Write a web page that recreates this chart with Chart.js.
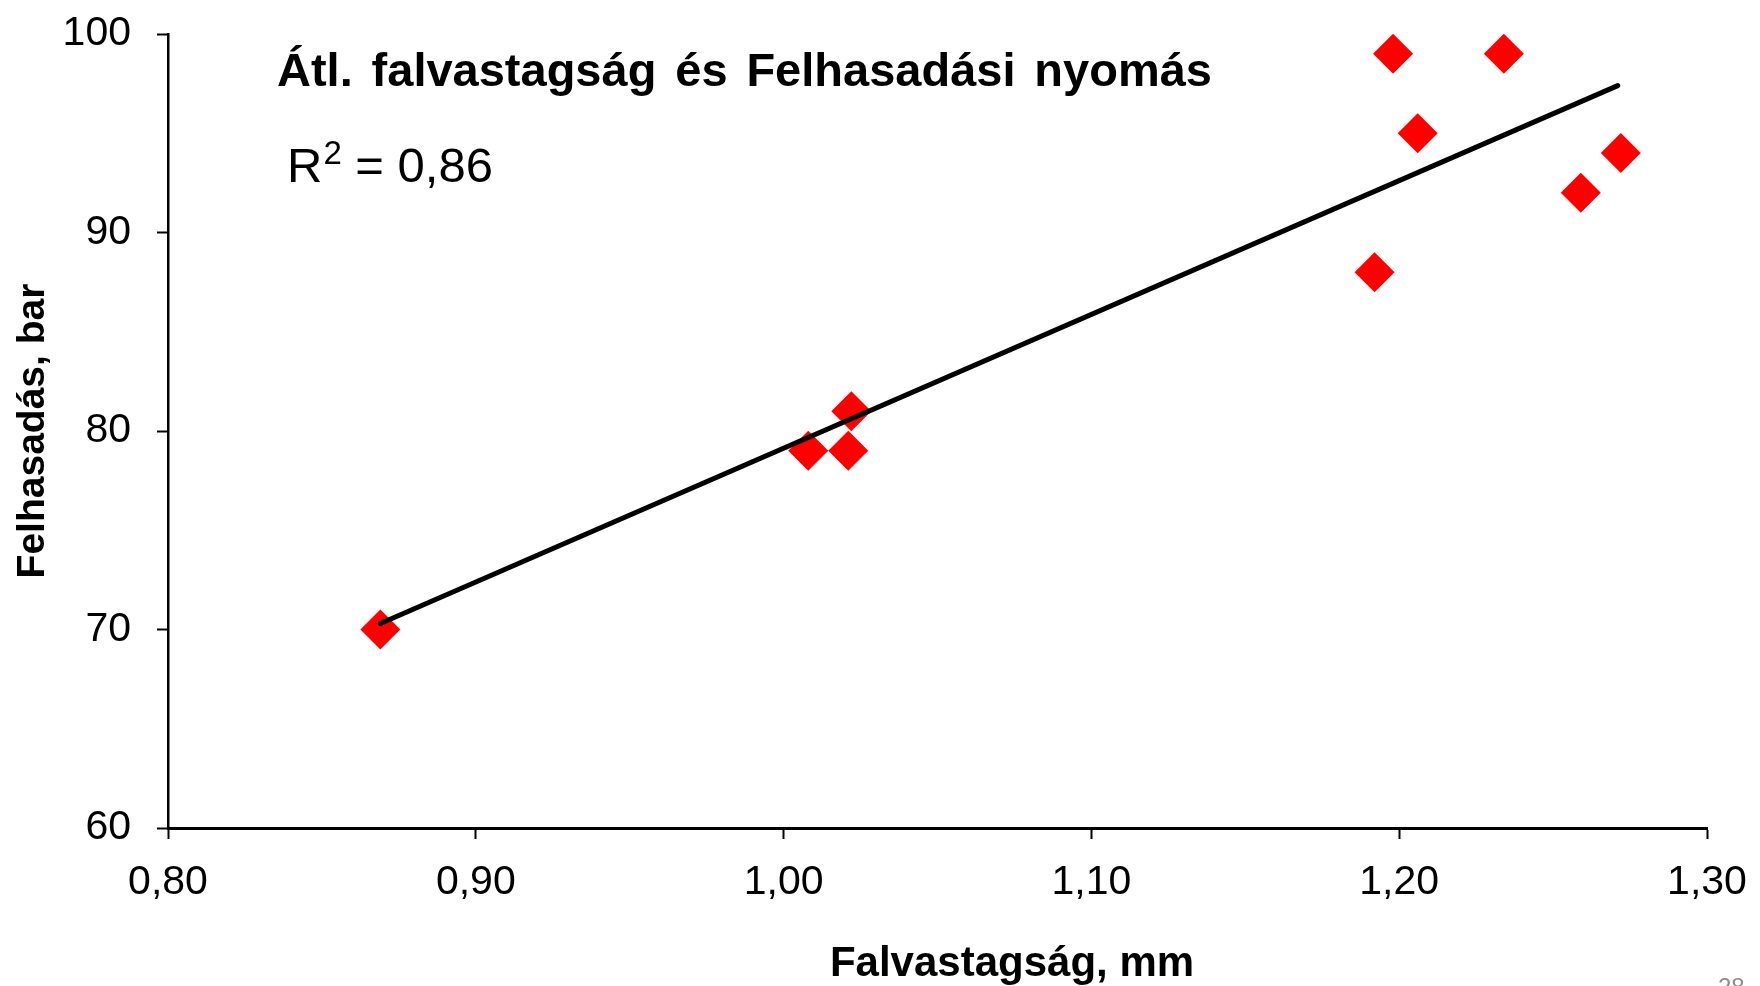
<!DOCTYPE html>
<html>
<head>
<meta charset="utf-8">
<title>Átl. falvastagság és Felhasadási nyomás</title>
<script src="https://cdn.jsdelivr.net/npm/chart.js@4/dist/chart.umd.min.js"></script>
<style>
    html, body { margin: 0; padding: 0; background: #fff; }
    #wrap { width: 1760px; height: 986px; position: relative; }
</style>
</head>
<body>
<div id="wrap"><canvas id="burstChart" width="1760" height="986"></canvas></div>
<script>
const wallThickness = [0.869, 1.008, 1.021, 1.022, 1.192, 1.198, 1.206, 1.234, 1.259, 1.272]
const burstPressure = [70, 79, 79, 81, 88, 99, 95, 99, 92, 94]

// linear trend line end points
const trendX = [0.869, 1.271]
const trendY = [70.3, 97.4]

const xMin = 0.8, xMax = 1.3, xStep = 0.1
const yMin = 60, yMax = 100, yStep = 10

const titleText = 'Átl. falvastagság és Felhasadási nyomás'
const r2Text = '0,86'
const xTitle = 'Falvastagság, mm'
const yTitle = 'Felhasadás, bar'
const pageNo = '28'

const FONT = '"Liberation Sans", Arial, sans-serif'

const points = wallThickness.map((x, i) => ({ x: x, y: burstPressure[i] }))
const trend = trendX.map((x, i) => ({ x: x, y: trendY[i] }))

// title, R², axis titles and page number are drawn by hand
const slideText = {
    id: 'slideText',
    afterDraw(chart) {
        const ctx = chart.ctx
        const area = chart.chartArea
        ctx.save()
        ctx.fillStyle = '#000'
        ctx.textBaseline = 'alphabetic'

        // title, words spread out like on the slide
        ctx.font = 'bold 47px ' + FONT
        const words = titleText.split(' ')
        const left = 277, right = 1212
        let natural = 0
        words.forEach(w => natural += ctx.measureText(w).width)
        const gap = (right - left - natural) / (words.length - 1)
        let x = left
        words.forEach(w => {
            ctx.fillText(w, x, 86)
            x += ctx.measureText(w).width + gap
        })

        // R² = 0,86
        ctx.font = '49px ' + FONT
        x = 287
        ctx.fillText('R', x, 182)
        x += ctx.measureText('R').width + 1
        ctx.font = '33px ' + FONT
        ctx.fillText('2', x, 164)
        x += ctx.measureText('2').width
        ctx.font = '49px ' + FONT
        ctx.fillText(' = ' + r2Text, x, 182)

        // axis titles
        ctx.font = 'bold 42px ' + FONT
        ctx.textAlign = 'center'
        ctx.fillText(xTitle, 1012, 976)
        ctx.font = 'bold 39px ' + FONT
        ctx.translate(44, (area.top + area.bottom) / 2)
        ctx.rotate(-Math.PI / 2)
        ctx.fillText(yTitle, 0, 0)
        ctx.restore()

        // slide number, cut off at the bottom
        ctx.save()
        ctx.fillStyle = '#8c8c8c'
        ctx.font = '24px ' + FONT
        ctx.fillText(pageNo, 1718, 995)
        ctx.restore()
    }
}

new Chart(document.getElementById('burstChart'), {
    type: 'scatter',
    data: {
        datasets: [{
            label: 'Trend',
            data: trend,
            showLine: true,
            borderColor: '#000',
            borderWidth: 5,
            borderCapStyle: 'round',
            pointRadius: 0,
            order: 0,
            clip: false
        }, {
            label: 'Felhasadás',
            data: points,
            pointStyle: 'rectRot',
            pointRadius: 20,
            pointHoverRadius: 20,
            backgroundColor: '#ff0000',
            borderWidth: 0,
            order: 1,
            clip: false
        }]
    },
    options: {
        responsive: false,
        animation: false,
        layout: {
            padding: { left: 0, top: 34, right: 53, bottom: 0 }
        },
        plugins: {
            legend: { display: false },
            tooltip: { enabled: false },
            title: { display: false }
        },
        scales: {
            x: {
                type: 'linear',
                min: xMin,
                max: xMax,
                afterFit: scale => {
                    scale.height = 158
                    scale.paddingLeft = 0
                    scale.paddingRight = 0
                },
                border: { color: '#000', width: 3 },
                grid: { drawOnChartArea: false, drawTicks: true, tickLength: 11, tickColor: '#000', tickWidth: 2 },
                ticks: {
                    stepSize: xStep,
                    padding: 19,
                    color: '#000',
                    font: { family: FONT, size: 41 },
                    callback: v => v.toFixed(2).replace('.', ',')
                }
            },
            y: {
                type: 'linear',
                min: yMin,
                max: yMax,
                afterFit: scale => {
                    scale.width = 168
                    scale.paddingTop = 0
                    scale.paddingBottom = 0
                },
                border: { color: '#000', width: 2.5 },
                grid: { drawOnChartArea: false, drawTicks: true, tickLength: 11, tickColor: '#000', tickWidth: 2 },
                ticks: {
                    stepSize: yStep,
                    padding: 26,
                    color: '#000',
                    font: { family: FONT, size: 41 }
                }
            }
        }
    },
    plugins: [slideText]
})
</script>
</body>
</html>
